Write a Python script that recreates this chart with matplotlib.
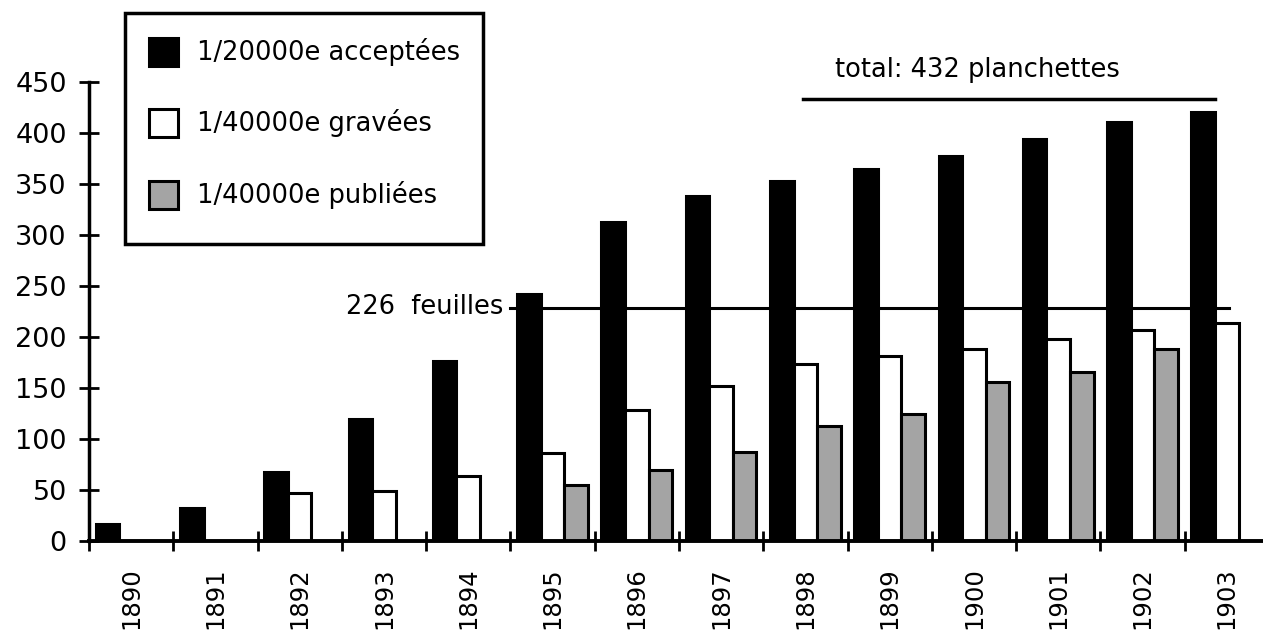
import matplotlib
matplotlib.use("Agg")
import matplotlib.pyplot as plt
from matplotlib.patches import Rectangle
import numpy as np

plt.rcParams['font.family'] = ['DejaVu Sans']

years = ['1890', '1891', '1892', '1893', '1894', '1895', '1896', '1897',
         '1898', '1899', '1900', '1901', '1902', '1903']
acceptees_20000 = [17, 32, 68, 120, 176, 242, 313, 338, 353, 365, 377, 394, 411, 421]
gravees_40000 = [0, 0, 47, 49, 64, 86, 128, 152, 174, 181, 188, 198, 207, 214]
publiees_40000 = [0, 0, 0, 0, 0, 55, 70, 87, 113, 125, 156, 166, 188, 0]
series_labels = ['1/20000e acceptées', '1/40000e gravées', '1/40000e publiées']
yticks = [0, 50, 100, 150, 200, 250, 300, 350, 400, 450]
feuilles_value = 228
feuilles_label = '226  feuilles'
total_value = 433
total_label = 'total: 432 planchettes'

W, H = 1263, 636
fig = plt.figure(figsize=(W / 100, H / 100), dpi=100)
ax = fig.add_axes([89 / W, 1 - 541 / H, 1 - 89 / W, (541 - 82) / H])

x = np.arange(len(years))
bw = 0.28
face = ['black', 'white', '#a4a4a4']
series = [acceptees_20000, gravees_40000, publiees_40000]
offsets = [-0.28, 0.0, 0.28]
for vals, off, fc in zip(series, offsets, face):
    ax.bar(x + off, vals, width=bw, color=fc, edgecolor='black', linewidth=2.2, zorder=2)

ax.set_ylim(0, 450)
ax.set_xlim(-0.5, 13.43)
ax.set_yticks(yticks)
ax.set_yticklabels([str(v) for v in yticks], fontsize=19.5)
ax.set_xticks(np.arange(len(years)) - 0.5)
ax.set_xticklabels([])
ax.set_xticks(x, minor=True)
ax.set_xticklabels(years, minor=True, rotation=90, fontsize=17.5)
ax.tick_params(axis='y', direction='inout', length=14, width=2, pad=9)
ax.tick_params(axis='x', which='major', direction='inout', length=14, width=2)
ax.tick_params(axis='x', which='minor', length=0, pad=19)

for s in ['top', 'right']:
    ax.spines[s].set_visible(False)
ax.spines['left'].set_linewidth(2.5)
ax.spines['bottom'].set_linewidth(2.8)
ax.spines['left'].set_bounds(0, 450)

# reference lines
ax.plot([4.5, 13.03], [feuilles_value, feuilles_value], color='black', lw=2.2, zorder=3)
ax.text(4.42, feuilles_value + 1, feuilles_label, ha='right', va='center', fontsize=18.5)
ax.plot([7.97, 12.86], [total_value, total_value], color='black', lw=2.5, zorder=3, clip_on=False)
ax.text(8.35, 462, total_label, ha='left', va='center', fontsize=18.5)

# legend box drawn manually in figure pixels
def fx(px):
    return px / W

def fy(py):
    return 1 - py / H

fig.patches.append(Rectangle((fx(125), fy(244)), fx(483) - fx(125), fy(13) - fy(244),
                             transform=fig.transFigure, fill=False, edgecolor='black', lw=2.5))
row_y = [52, 123, 195]
for ry, fc, lab in zip(row_y, face, series_labels):
    fig.patches.append(Rectangle((fx(149), fy(ry + 14)), fx(29), 28 / H,
                                 transform=fig.transFigure, facecolor=fc,
                                 edgecolor='black', lw=2.2))
    fig.text(fx(197), fy(ry), lab, ha='left', va='center', fontsize=18.5)

fig.savefig('out.png', dpi=100)
